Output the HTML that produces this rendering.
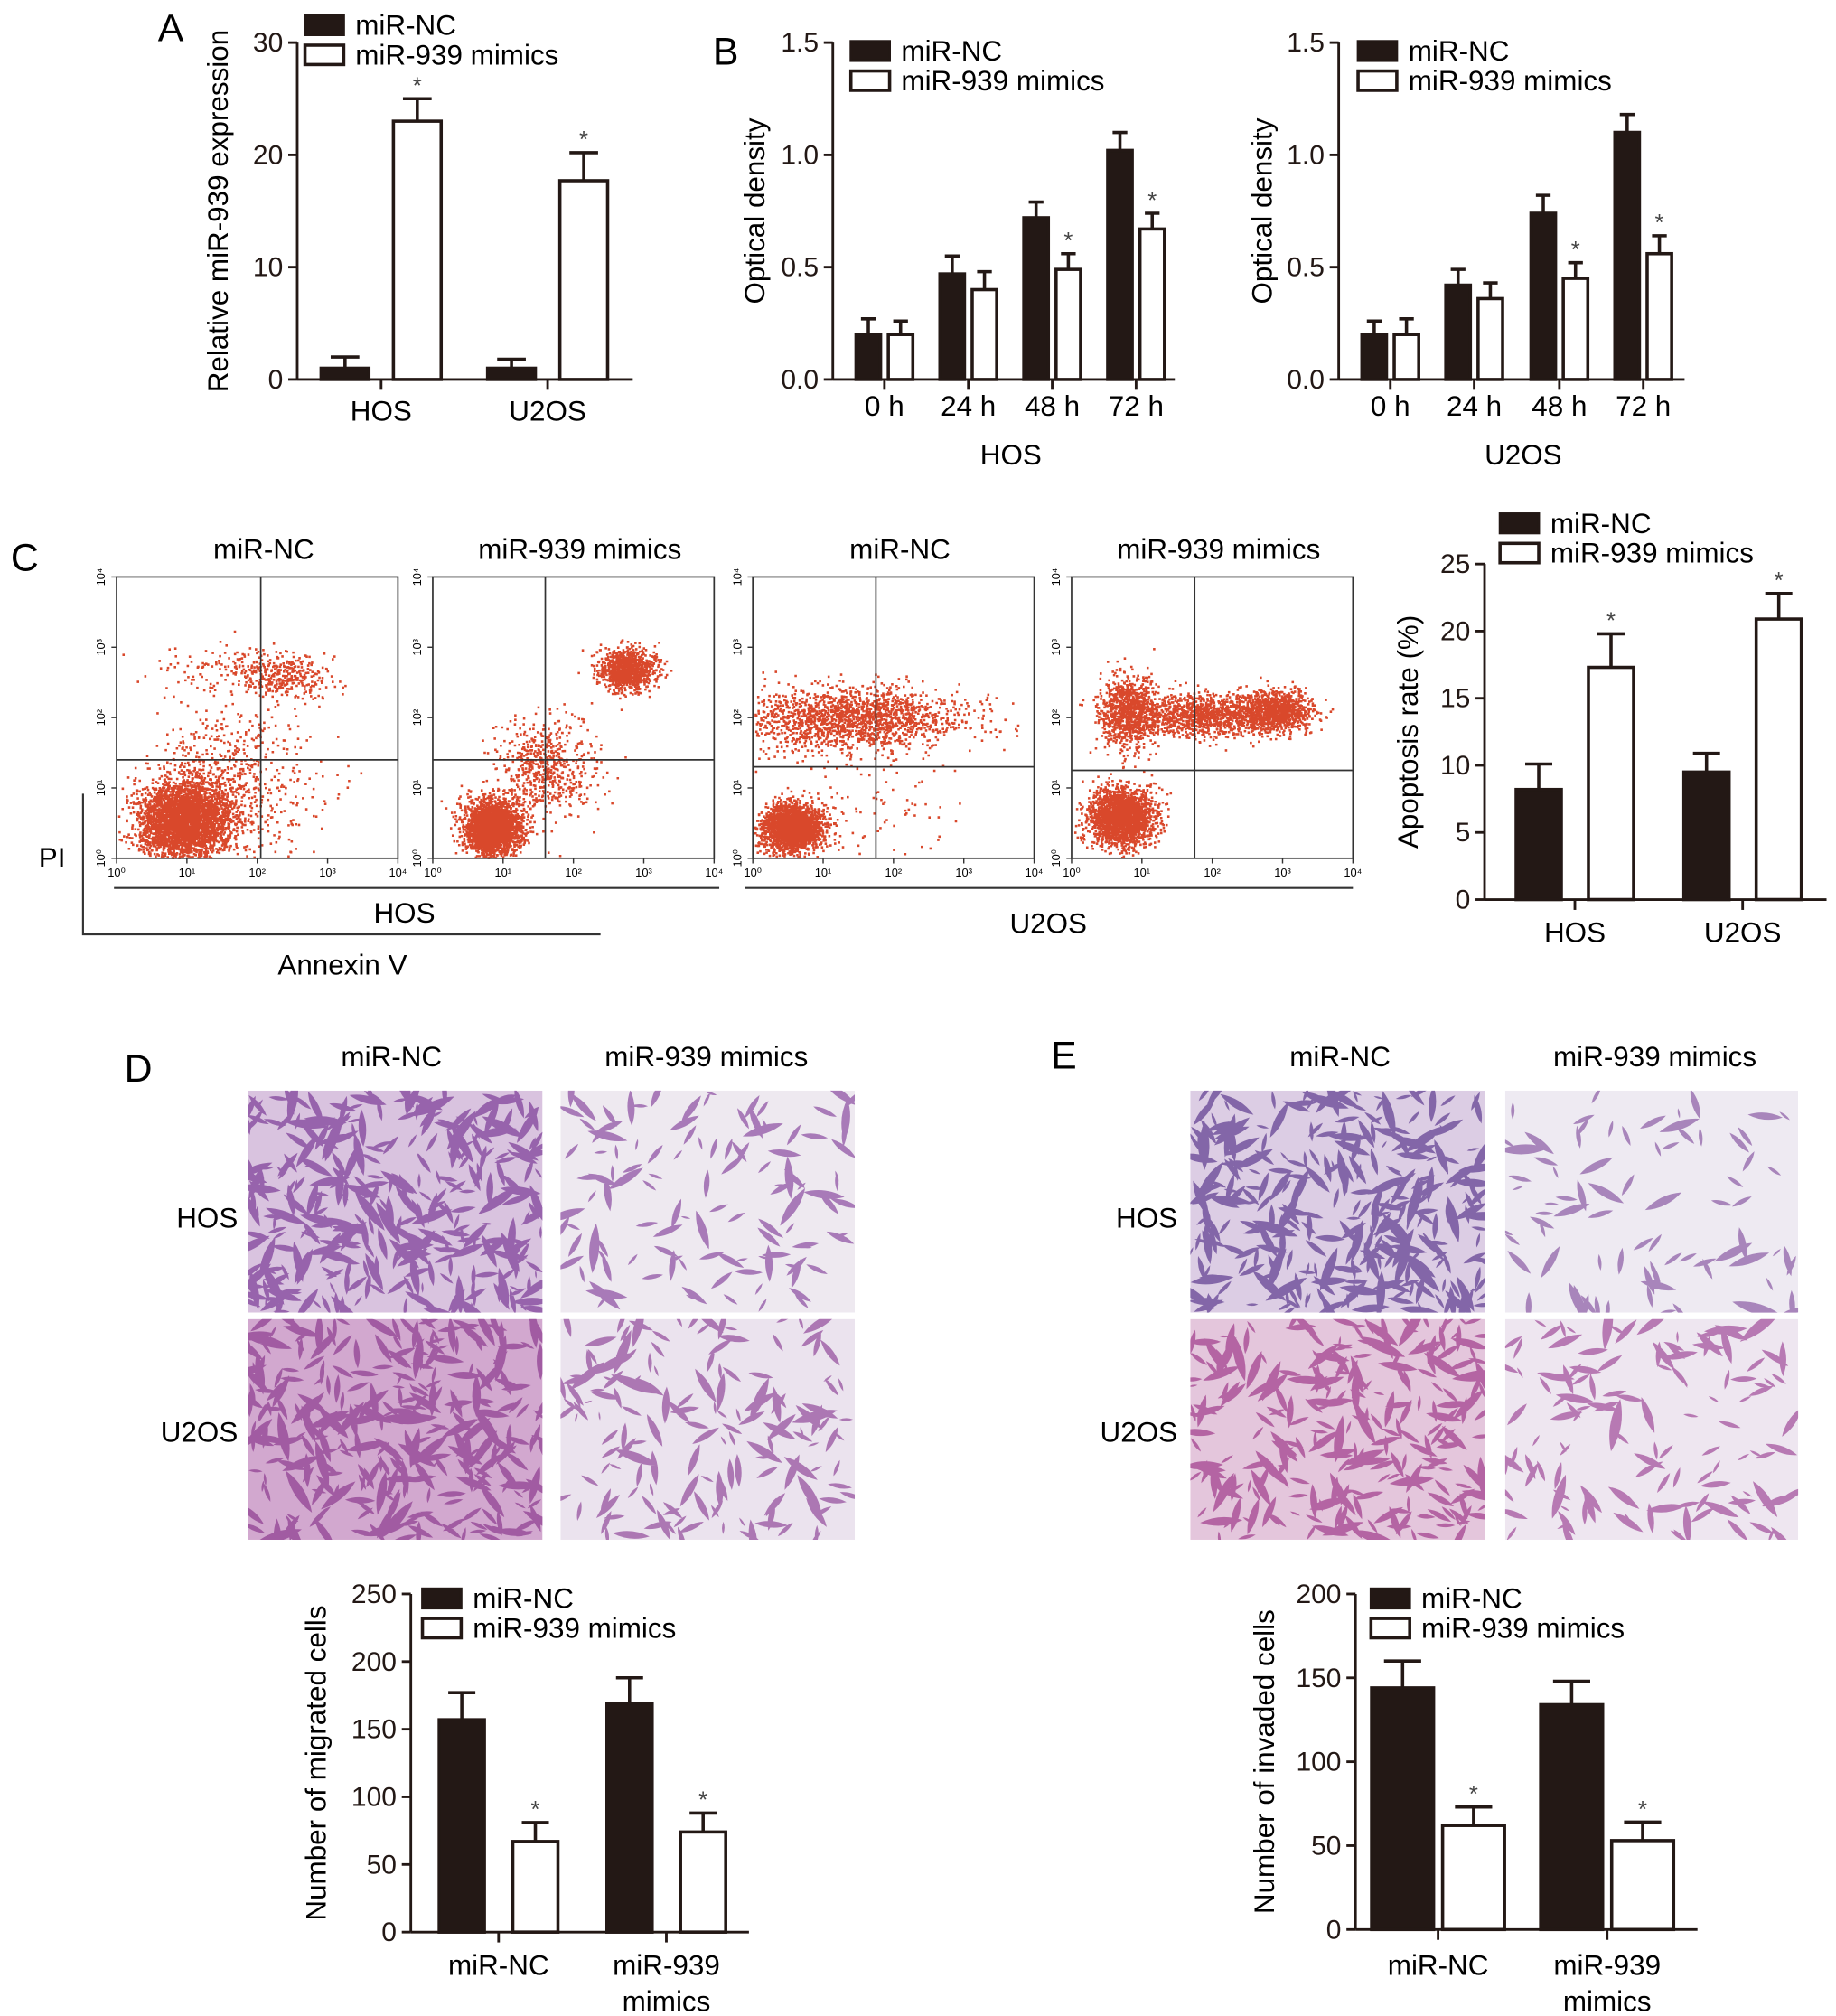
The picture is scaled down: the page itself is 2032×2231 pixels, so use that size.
<!DOCTYPE html>
<html><head><meta charset="utf-8"><style>
html,body{margin:0;padding:0;background:#fff;}
svg{display:block;font-family:"Liberation Sans",Arial,sans-serif;}
</style></head><body>
<svg id="fig" width="2032" height="2231" viewBox="0 0 1422 1562" xmlns="http://www.w3.org/2000/svg">
<defs id="defs"></defs>
<rect width="1422" height="1562" fill="#fff"/>
<g id="root"></g>
</svg>
<script>
// ---------- DATA ----------
const aCategories = ["HOS","U2OS"];
const aNC = [1.0, 1.0];
const aNCErr = [2.0, 1.8];
const aMimics = [23.0, 17.7];
const aMimicsErr = [25.0, 20.2];
const aTicks = [0,10,20,30];

const bCategories = ["0 h","24 h","48 h","72 h"];
const bHosNC = [0.20,0.47,0.72,1.02];
const bHosNCErr = [0.27,0.55,0.79,1.10];
const bHosMim = [0.20,0.40,0.49,0.67];
const bHosMimErr = [0.26,0.48,0.56,0.74];
const bU2NC = [0.20,0.42,0.74,1.10];
const bU2NCErr = [0.26,0.49,0.82,1.18];
const bU2Mim = [0.20,0.36,0.45,0.56];
const bU2MimErr = [0.27,0.43,0.52,0.64];
const bTicks = ["0.0","0.5","1.0","1.5"];

const cCategories = ["HOS","U2OS"];
const cNC = [8.2, 9.5];
const cNCErr = [10.1, 10.9];
const cMim = [17.3, 20.9];
const cMimErr = [19.8, 22.8];
const cTicks = [0,5,10,15,20,25];

const dCategories = ["miR-NC","miR-939|mimics"];
const dNC = [157, 169];
const dNCErr = [177, 188];
const dMim = [67, 74];
const dMimErr = [81, 88];
const dTicks = [0,50,100,150,200,250];

const eCategories = ["miR-NC","miR-939|mimics"];
const eNC = [144, 134];
const eNCErr = [160, 148];
const eMim = [62, 53];
const eMimErr = [73, 64];
const eTicks = [0,50,100,150,200];

// flow clusters: [cx(log10), cy(log10), sdx, sdy, n]
const flowHOSNC = [[0.95,0.55,0.32,0.28,3500],[1.6,1.0,0.6,0.55,700],[2.4,2.6,0.3,0.15,300],[1.7,2.7,0.5,0.2,150]];
const flowHOSMim = [[0.85,0.45,0.2,0.2,2500],[1.6,1.3,0.35,0.35,600],[2.75,2.7,0.2,0.15,1000]];
const flowU2NC = [[0.55,0.45,0.22,0.17,2200],[1.4,2.0,0.8,0.22,1800],[1.8,0.8,0.8,0.5,100]];
const flowU2Mim = [[0.7,0.6,0.23,0.2,2200],[0.8,2.1,0.2,0.25,1000],[1.9,2.05,0.55,0.15,1200],[2.9,2.1,0.25,0.15,900]];

// ---------- HELPERS ----------
const NS="http://www.w3.org/2000/svg";
const root=document.getElementById('root');
const defs=document.getElementById('defs');
function mk(tag,attrs,parent,text){const e=document.createElementNS(NS,tag);for(const k in attrs)e.setAttribute(k,attrs[k]);if(text!==undefined)e.textContent=text;(parent||root).appendChild(e);return e;}
let seed=12345;
function rnd(){seed|=0;seed=seed+0x6D2B79F5|0;let t=Math.imul(seed^seed>>>15,1|seed);t=t+Math.imul(t^t>>>7,61|t)^t;return((t^t>>>14)>>>0)/4294967296;}
function gauss(){let u=rnd()||1e-9,v=rnd();return Math.sqrt(-2*Math.log(u))*Math.cos(2*Math.PI*v);}

function letter(t,x,y){const e=mk('text',{x:x,y:y,'font-size':30},root,t);

}

function legend(g,x,y,name){
 const l=mk('g',{},g);
 
 
 mk('rect',{x:x,y:y,width:30,height:15,fill:'#231815',stroke:'#231815','stroke-width':2},l);
 mk('text',{x:x+39,y:y+15,'font-size':22},l,'miR-NC');
 mk('rect',{x:x,y:y+23,width:30,height:15,fill:'#fff',stroke:'#231815','stroke-width':2.5},l);
 mk('text',{x:x+39,y:y+38,'font-size':22},l,'miR-939 mimics');
}

function barChart(o){
 const g=mk('g',{});
 
 
 const ys=v=>o.y0-(v/o.ymax)*(o.y0-o.yTop);
 const ax=mk('g',{stroke:'#231815','stroke-width':2},g);
 
 
 mk('line',{x1:o.axX,y1:o.yTop,x2:o.axX,y2:o.y0},ax);
 mk('line',{x1:o.axX,y1:o.y0,x2:o.xEnd,y2:o.y0},ax);
 o.ticks.forEach((t,i)=>{const y=ys(t);mk('line',{x1:o.axX-7,y1:y,x2:o.axX,y2:y},ax);
  const tl=mk('text',{x:o.axX-11,y:y+7,'font-size':21,'text-anchor':'end',fill:'#231815',stroke:'none'},g,o.tickLabels?o.tickLabels[i]:String(t));
  
  });
 const half=o.barW+o.gap/2;
 o.cats.forEach((c,i)=>{
  const cx=o.centers[i];
  mk('line',{x1:cx,y1:o.y0,x2:cx,y2:o.y0+8},ax);
  const parts=c.split('|');
  parts.forEach((p,j)=>{const t=mk('text',{x:cx,y:o.catY+j*28,'font-size':22,'text-anchor':'middle'},g,p);
   
   });
  [[o.nc,o.ncE,cx-half,'#231815','nc'],[o.mim,o.mimE,cx+o.gap/2,'#fff','mimics']].forEach(([arr,err,bx,fill,s])=>{
   const y=ys(arr[i]),ye=ys(err[i]),mx=bx+o.barW/2;
   mk('line',{x1:mx,y1:y,x2:mx,y2:ye,stroke:'#231815','stroke-width':2.5},g);
   mk('line',{x1:mx-o.barW*0.3,y1:ye,x2:mx+o.barW*0.3,y2:ye,stroke:'#231815','stroke-width':2.5},g);
   const r=mk('rect',{x:bx,y:y,width:o.barW,height:o.y0-y,fill:fill,stroke:'#231815','stroke-width':2.5},g);
   
   
   if(s==='mimics'&&o.star){const st=mk('text',{x:mx,y:ye-4,'font-size':18,'text-anchor':'middle',fill:'#444'},g,'*');
    
    }
  });
 });
 const tt=mk('text',{x:o.titleX,y:(o.yTop+o.y0)/2,'font-size':22,'text-anchor':'middle',transform:`rotate(-90 ${o.titleX} ${(o.yTop+o.y0)/2})`},g,o.title);
 
 
 return g;
}

// ---------- PANEL A ----------
letter('A',122,32);
let gA=barChart({name:'chart-a',axX:230,y0:294,yTop:33,xEnd:490,ymax:30,ticks:aTicks,centers:[295,424],barW:37,gap:19,nc:aNC,ncE:aNCErr,mim:aMimics,mimE:aMimicsErr,cats:aCategories,catY:326,title:'Relative miR-939 expression',titleX:176,star:true});
legend(gA,236,12,'legend-a');

// ---------- PANEL B ----------
letter('B',552,50);
let gB1=barChart({name:'chart-b-hos',axX:645,y0:294,yTop:33,xEnd:910,ymax:1.5,ticks:[0,0.5,1,1.5],tickLabels:bTicks,centers:[685,750,815,880],barW:19,gap:6,nc:bHosNC,ncE:bHosNCErr,mim:bHosMim,mimE:bHosMimErr,cats:bCategories,catY:322,title:'Optical density',titleX:592,star:false});
legend(gB1,659,32,'legend-b-hos');
let t=mk('text',{x:783,y:360,'font-size':22,'text-anchor':'middle'},gB1,'HOS');


let gB2=barChart({name:'chart-b-u2os',axX:1037,y0:294,yTop:33,xEnd:1305,ymax:1.5,ticks:[0,0.5,1,1.5],tickLabels:bTicks,centers:[1077,1142,1208,1273],barW:19,gap:6,nc:bU2NC,ncE:bU2NCErr,mim:bU2Mim,mimE:bU2MimErr,cats:bCategories,catY:322,title:'Optical density',titleX:985,star:false});
legend(gB2,1052,32,'legend-b-u2os');
t=mk('text',{x:1180,y:360,'font-size':22,'text-anchor':'middle'},gB2,'U2OS');


[[gB1,[815,880],bHosMimErr],[gB2,[1208,1273],bU2MimErr]].forEach(([g,cs,err])=>{
 cs.forEach((cx,k)=>{const v=err[2+k];const y=294-(v/1.5)*261;
  const st=mk('text',{x:cx+12.5,y:y-4,'font-size':18,'text-anchor':'middle',fill:'#444'},g,'*');
  
  });
});

// ---------- PANEL C flow ----------
letter('C',8,442);
const plots=[
 {x:90,title:'miR-NC',qv:2.05,qh:1.4,data:flowHOSNC,name:'flow-hos-nc'},
 {x:335,title:'miR-939 mimics',qv:1.6,qh:1.4,data:flowHOSMim,name:'flow-hos-mimics'},
 {x:583,title:'miR-NC',qv:1.75,qh:1.3,data:flowU2NC,name:'flow-u2os-nc'},
 {x:830,title:'miR-939 mimics',qv:1.75,qh:1.25,data:flowU2Mim,name:'flow-u2os-mimics'}];
const PY=447,PS=218;
plots.forEach(p=>{
 const g=mk('g',{});
 
 
 const sx=v=>p.x+v/4*PS, sy=v=>PY+PS-v/4*PS;
 let h='';
 p.data.forEach(c=>{for(let i=0;i<c[4];i++){const vx=c[0]+gauss()*c[2],vy=c[1]+gauss()*c[3];
  if(vx<0.02||vx>3.98||vy<0.02||vy>3.98)continue;h+=`M${sx(vx).toFixed(1)} ${sy(vy).toFixed(1)}h1.8v1.8h-1.8z`;}});
 mk('path',{d:h,fill:'#d9482b'},g);
 mk('rect',{x:p.x,y:PY,width:PS,height:PS,fill:'none',stroke:'#333','stroke-width':1.2},g);
 mk('line',{x1:sx(p.qv),y1:PY,x2:sx(p.qv),y2:PY+PS,stroke:'#333','stroke-width':1.2},g);
 mk('line',{x1:p.x,y1:sy(p.qh),x2:p.x+PS,y2:sy(p.qh),stroke:'#333','stroke-width':1.2},g);
 const tt=mk('text',{x:p.x+PS/2+5,y:433,'font-size':22,'text-anchor':'middle'},g,p.title);
 
 
 for(let k=0;k<=4;k++){
  const xx=sx(k), yy=sy(k);
  mk('line',{x1:xx,y1:PY+PS,x2:xx,y2:PY+PS+4,stroke:'#333'},g);
  mk('text',{x:xx,y:PY+PS+14,'font-size':9,'text-anchor':'middle'},g,'10'+['⁰','¹','²','³','⁴'][k]);
  mk('line',{x1:p.x-4,y1:yy,x2:p.x,y2:yy,stroke:'#333'},g);
  mk('text',{x:p.x-9,y:yy,'font-size':9,'text-anchor':'middle',transform:`rotate(-90 ${p.x-9} ${yy})`},g,'10'+['⁰','¹','²','³','⁴'][k]);
 }
});
let gl=mk('g',{stroke:'#333','stroke-width':1.5});


mk('line',{x1:88,y1:688,x2:557,y2:688},gl);
mk('line',{x1:577,y1:688,x2:1048,y2:688},gl);
mk('polyline',{points:'64,615 64,724 465,724',fill:'none'},gl);
[['HOS',313,715,'flow-hos-label'],['U2OS',812,723,'flow-u2os-label'],['Annexin V',265,755,'x-axis-annexin'],['PI',40,672,'y-axis-pi']].forEach(a=>{
 const e=mk('text',{x:a[1],y:a[2],'font-size':22,'text-anchor':'middle'},root,a[0]);
 
 });

// ---------- PANEL C bars ----------
let gC=barChart({name:'chart-c-apoptosis',axX:1150,y0:697,yTop:437,xEnd:1415,ymax:25,ticks:cTicks,centers:[1220,1350],barW:35,gap:21,nc:cNC,ncE:cNCErr,mim:cMim,mimE:cMimErr,cats:cCategories,catY:730,title:'Apoptosis rate (%)',titleX:1098,star:true});
legend(gC,1162,398,'legend-c');

// ---------- PANEL D/E micrographs ----------
letter('D',96,838);
letter('E',814,828);
let clipId=0;
function micro(x,y,w,h,bg,cell,n,name){
 const id='clip'+(clipId++);
 const cp=mk('clipPath',{id:id},defs);
 mk('rect',{x:x,y:y,width:w,height:h},cp);
 const g=mk('g',{'clip-path':`url(#${id})`});
 
 
 mk('rect',{x:x,y:y,width:w,height:h,fill:bg},g);
 let d='';
 for(let i=0;i<n;i++){const cx=x+rnd()*w,cy=y+rnd()*h,r=2+rnd()*4,a=rnd()*6.28,l=r*(1.5+rnd()*2);
  const dx=Math.cos(a)*l,dy=Math.sin(a)*l;
  d+=`M${(cx-dx).toFixed(1)} ${(cy-dy).toFixed(1)}Q${(cx-dy*0.4).toFixed(1)} ${(cy+dx*0.4).toFixed(1)} ${(cx+dx).toFixed(1)} ${(cy+dy).toFixed(1)}Q${(cx+dy*0.4).toFixed(1)} ${(cy-dx*0.4).toFixed(1)} ${(cx-dx).toFixed(1)} ${(cy-dy).toFixed(1)}Z`;}
 mk('path',{d:d,fill:cell,'fill-opacity':0.7},g);
}
micro(192,845,228,172,'#d9c3df','#7a3a96',360,'micrograph-d-hos-nc');
micro(434,845,228,172,'#eee9f0','#8a4a9f',120,'micrograph-d-hos-mimics');
micro(192,1022,228,171,'#d2a8cf','#8b3a8f',330,'micrograph-d-u2os-nc');
micro(434,1022,228,171,'#ebe3ee','#92489a',160,'micrograph-d-u2os-mimics');
micro(922,845,228,172,'#dccde4','#5c3a8e',330,'micrograph-e-hos-nc');
micro(1166,845,227,172,'#eeeaf2','#8a5aa4',80,'micrograph-e-hos-mimics');
micro(922,1022,228,171,'#e4c6dc','#a03a8a',280,'micrograph-e-u2os-nc');
micro(1166,1022,227,171,'#eee6f0','#a04a98',130,'micrograph-e-u2os-mimics');
[['miR-NC',303,826],['miR-939 mimics',547,826],['miR-NC',1038,826],['miR-939 mimics',1282,826]].forEach(a=>{
 const e=mk('text',{x:a[1],y:a[2],'font-size':22,'text-anchor':'middle'},root,a[0]);
 
 });
[['HOS',184,951],['U2OS',184,1117],['HOS',912,951],['U2OS',912,1117]].forEach(a=>{
 const e=mk('text',{x:a[1],y:a[2],'font-size':22,'text-anchor':'end'},root,a[0]);
 
 });

// ---------- PANEL D/E bars ----------
let gD=barChart({name:'chart-d-migration',axX:318,y0:1497,yTop:1235,xEnd:580,ymax:250,ticks:dTicks,centers:[386,516],barW:35,gap:22,nc:dNC,ncE:dNCErr,mim:dMim,mimE:dMimErr,cats:dCategories,catY:1530,title:'Number of migrated cells',titleX:252,star:true});
legend(gD,327,1231,'legend-d');
let gE=barChart({name:'chart-e-invasion',axX:1050,y0:1495,yTop:1235,xEnd:1315,ymax:200,ticks:eTicks,centers:[1114,1245],barW:48,gap:7,nc:eNC,ncE:eNCErr,mim:eMim,mimE:eMimErr,cats:eCategories,catY:1530,title:'Number of invaded cells',titleX:987,star:true});
legend(gE,1062,1231,'legend-e');
</script>
</body></html>
